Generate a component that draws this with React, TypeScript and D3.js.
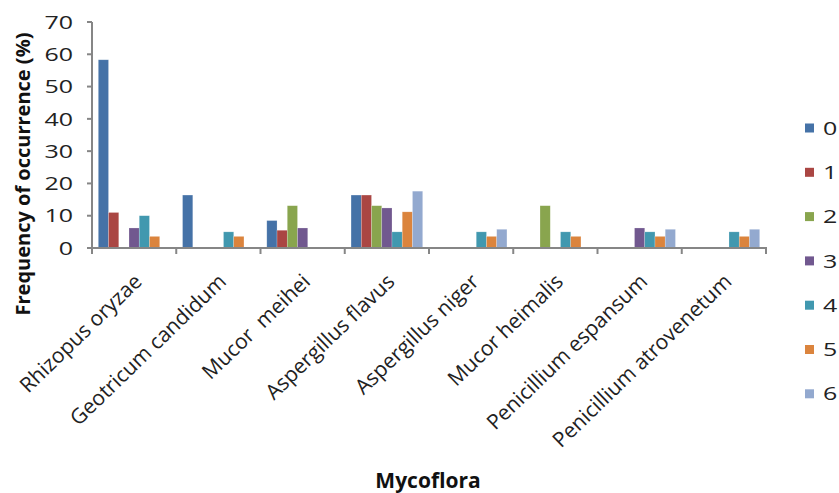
import React from "react";
import * as d3 from "d3";

const categories = [
  "Rhizopus oryzae",
  "Geotricum candidum",
  "Mucor  meihei",
  "Aspergillus flavus",
  "Aspergillus niger",
  "Mucor heimalis",
  "Penicillium espansum",
  "Penicillium atrovenetum",
];
const seriesNames = ["0", "1", "2", "3", "4", "5", "6"];
const s0 = [58.3, 16.4, 8.5, 16.4, 0, 0, 0, 0];
const s1 = [11.0, 0, 5.5, 16.4, 0, 0, 0, 0];
const s2 = [0, 0, 13.1, 13.1, 0, 13.1, 0, 0];
const s3 = [6.2, 0, 6.2, 12.4, 0, 0, 6.2, 0];
const s4 = [10.0, 5.0, 0, 5.0, 5.0, 5.0, 5.0, 5.0];
const s5 = [3.6, 3.6, 0, 11.2, 3.6, 3.6, 3.6, 3.6];
const s6 = [0, 0, 0, 17.6, 5.8, 0, 5.8, 5.8];
const seriesValues = [s0, s1, s2, s3, s4, s5, s6];
const colors = ["#4572A7", "#AA4643", "#89A54E", "#71588F", "#4198AF", "#DB843D", "#93A9CF"];
const yTicks = [0, 10, 20, 30, 40, 50, 60, 70];

const W = 839;
const H = 493;
const left = 92;
const right = 766;
const top = 22;
const bottom = 248;
const font = "'Open Sans', 'Liberation Sans', sans-serif";

export default function App() {
  const x0 = d3.scaleBand<string>().domain(categories).range([left, right]).padding(0);
  const gap = 6.3;
  const x1 = d3
    .scaleBand<string>()
    .domain(seriesNames)
    .range([gap, x0.bandwidth() - gap])
    .padding(0);
  const y = d3.scaleLinear().domain([0, 70]).range([bottom, top]);

  return (
    <svg
      width={W}
      height={H}
      style={{ position: "absolute", left: 0, top: 0, background: "#fff" }}
      fontFamily={font}
    >
      {/* bars */}
      {seriesValues.map((vals, si) =>
        vals.map((v, ci) =>
          v > 0 ? (
            <rect
              key={`${si}-${ci}`}
              x={(x0(categories[ci]) as number) + (x1(seriesNames[si]) as number)}
              y={y(v)}
              width={x1.bandwidth()}
              height={y(0) - y(v)}
              fill={colors[si]}
              stroke="#ffffff"
              strokeOpacity={0.35}
              strokeWidth={0.6}
            />
          ) : null
        )
      )}
      {/* y axis */}
      <line x1={left} x2={left} y1={top} y2={bottom} stroke="#868686" strokeWidth={2} />
      {yTicks.map((t) => (
        <g key={t}>
          <line x1={left - 5} x2={left} y1={y(t)} y2={y(t)} stroke="#868686" strokeWidth={2} />
          <text
            transform={`translate(73 ${y(t)}) scale(1.35 1)`}
            dy="0.36em"
            textAnchor="end"
            fontSize={18.5}
            fill="#222"
          >
            {t}
          </text>
        </g>
      ))}
      {/* x axis */}
      <line x1={left - 5} x2={right + 1} y1={bottom} y2={bottom} stroke="#868686" strokeWidth={2} />
      {[...categories.map((c) => x0(c) as number), right].map((xv, i) => (
        <line key={i} x1={xv} x2={xv} y1={bottom} y2={bottom + 6} stroke="#868686" strokeWidth={2} />
      ))}
      {categories.map((c) => {
        const cx = (x0(c) as number) + x0.bandwidth() / 2 + 9;
        const cy = bottom + 35;
        return (
          <text
            key={c}
            x={cx}
            y={cy}
            textAnchor="end"
            fontSize={21}
            fill="#222"
            transform={`rotate(-44 ${cx} ${cy})`}
            style={{ whiteSpace: "pre" }}
          >
            {c}
          </text>
        );
      })}
      {/* axis titles */}
      <text
        transform={`translate(30 174) rotate(-90)`}
        textAnchor="middle"
        fontSize={20}
        fontWeight="bold"
        fill="#111"
      >
        Frequency of occurrence (%)
      </text>
      <text x={428} y={488} textAnchor="middle" fontSize={21} fontWeight="bold" fill="#111">
        Mycoflora
      </text>
      {/* legend */}
      {seriesNames.map((s, i) => {
        const ly = 128 + i * 44.3;
        return (
          <g key={s}>
            <rect x={805} y={ly - 4.5} width={9} height={9} fill={colors[i]} />
            <text
              transform={`translate(823 ${ly}) scale(1.35 1)`}
              dy="0.36em"
              fontSize={18.5}
              fill="#222"
            >
              {s}
            </text>
          </g>
        );
      })}
    </svg>
  );
}
